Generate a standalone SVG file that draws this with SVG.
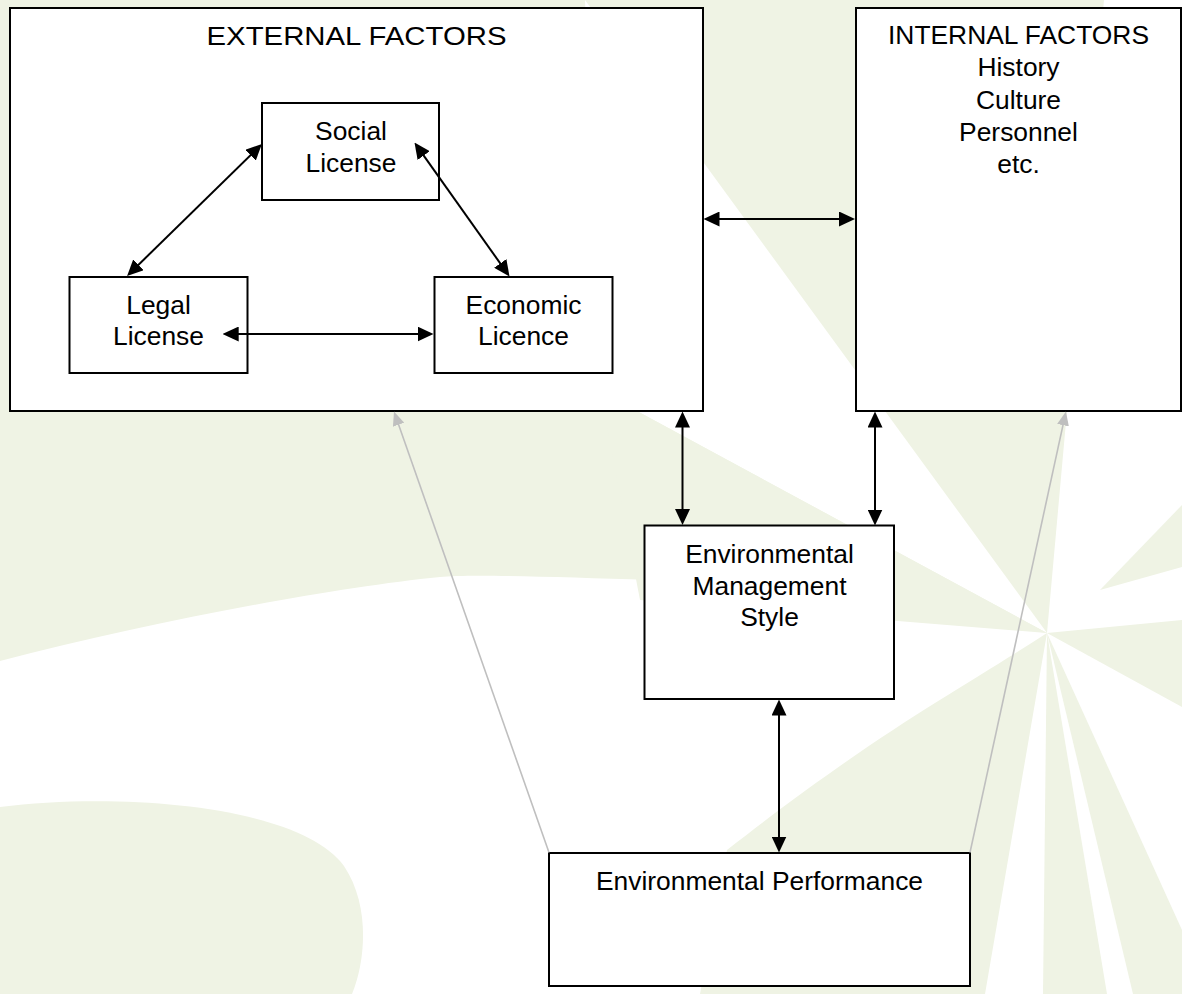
<svg xmlns="http://www.w3.org/2000/svg" width="1182" height="994" viewBox="0 0 1182 994">
<style>
.bg{fill:#eff3e4;stroke:none}
.box{fill:#ffffff;stroke:#000000;stroke-width:2}
.t{font-family:"Liberation Sans",Arial,sans-serif;font-size:26.4px;fill:#000000;text-anchor:middle}
.c{stroke:#000000;stroke-width:2;fill:none;marker-start:url(#as);marker-end:url(#ae)}
.g{stroke:#bfbfbf;stroke-width:1.6;fill:none;marker-end:url(#ge)}
</style>
<defs>
<marker id="ae" markerUnits="userSpaceOnUse" markerWidth="16" markerHeight="15" refX="12" refY="7.5" orient="auto"><path d="M0,0 L16,7.5 L0,15 Z" fill="#000"/></marker>
<marker id="as" markerUnits="userSpaceOnUse" markerWidth="16" markerHeight="15" refX="4" refY="7.5" orient="auto"><path d="M16,0 L0,7.5 L16,15 Z" fill="#000"/></marker>
<marker id="ge" markerUnits="userSpaceOnUse" markerWidth="14" markerHeight="12" refX="10" refY="6" orient="auto"><path d="M0,0 L14,6 L0,12 Z" fill="#bfbfbf"/></marker>
</defs>
<g id="background">
<rect x="0" y="0" width="1182" height="994" fill="#ffffff"/>
<path class="bg" d="M0,0 H1104 L1047,633 L700,580 L650,580 C560,577 470,574 440,577 C330,588 150,622 0,661 Z"/>
<polygon fill="#ffffff" points="1047,633 585,0 600,391"/>
<path class="bg" d="M1047,633 L600,391 L640,600 Z"/>
<path class="bg" d="M0,807 C120,792 300,805 344,866 C370,905 366,960 352,994 L0,994 Z"/>
<path class="bg" d="M1047,633 C960,690 880,730 727,850 L700,994 L985,994 Z"/>
<polygon class="bg" points="1100,590 1182,505 1182,567"/>
<polygon class="bg" points="1047,633 1182,620 1182,707"/>
<polygon class="bg" points="1047,633 1043,994 1107,994"/>
<polygon class="bg" points="1047,633 1133,994 1182,994 1182,930"/>
</g>
<g id="external">
<rect class="box" x="10" y="8" width="693" height="403"/>
<text class="t" x="356.5" y="45" textLength="300" lengthAdjust="spacingAndGlyphs">EXTERNAL FACTORS</text>
</g>
<g id="internal">
<rect class="box" x="856" y="8" width="325" height="403"/>
<text class="t" x="1018.5" y="44">INTERNAL FACTORS</text>
<text class="t" x="1018.5" y="76">History</text>
<text class="t" x="1018.5" y="108.5">Culture</text>
<text class="t" x="1018.5" y="140.5">Personnel</text>
<text class="t" x="1018.5" y="173">etc.</text>
</g>
<g id="social">
<rect class="box" x="262" y="103" width="177" height="97"/>
<text class="t" x="351" y="139.5">Social</text>
<text class="t" x="351" y="171.5">License</text>
</g>
<g id="legal">
<rect class="box" x="69.5" y="277" width="178" height="96"/>
<text class="t" x="158.5" y="313.5">Legal</text>
<text class="t" x="158.5" y="345">License</text>
</g>
<g id="economic">
<rect class="box" x="434.5" y="277" width="178" height="96"/>
<text class="t" x="523.5" y="313.5">Economic</text>
<text class="t" x="523.5" y="345">Licence</text>
</g>
<g id="ems">
<rect class="box" x="644.5" y="525.5" width="249.5" height="173.5"/>
<text class="t" x="769.5" y="563">Environmental</text>
<text class="t" x="769.5" y="594.5">Management</text>
<text class="t" x="769.5" y="626">Style</text>
</g>
<g id="ep">
<rect class="box" x="549" y="853" width="421" height="133"/>
<text class="t" x="759.5" y="889.5">Environmental Performance</text>
</g>
<g id="connectors">
<line class="c" x1="259.1" y1="146.8" x2="129.9" y2="273.2"/>
<line class="c" x1="416.8" y1="145.8" x2="507.2" y2="273.2"/>
<line class="c" x1="226.7" y1="334" x2="429.5" y2="334"/>
<line class="c" x1="707.5" y1="219" x2="851" y2="219"/>
<line class="c" x1="682.5" y1="415.5" x2="682.5" y2="521"/>
<line class="c" x1="875" y1="415.5" x2="875" y2="521.5"/>
<line class="c" x1="779" y1="703.5" x2="779" y2="848.5"/>
<line class="g" x1="549" y1="852.5" x2="395.3" y2="415.3"/>
<line class="g" x1="970" y1="852.5" x2="1065.1" y2="415.4"/>
</g>
</svg>
